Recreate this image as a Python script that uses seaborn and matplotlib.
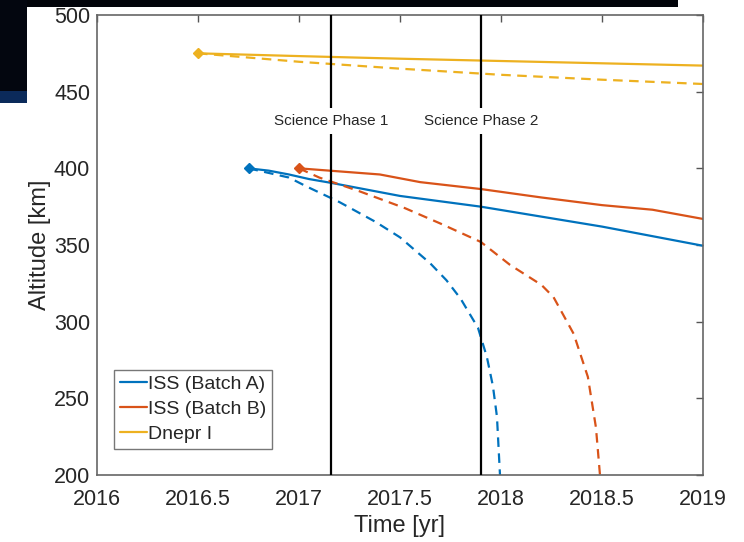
import numpy as np
import pandas as pd
import matplotlib
matplotlib.use("Agg")
import matplotlib.pyplot as plt
from matplotlib.patches import Rectangle
import seaborn as sns

# ---- data ----
issA_solid_t = [2016.75, 2016.85, 2016.95, 2017.05, 2017.16, 2017.5, 2017.9, 2018.5, 2019.0]
issA_solid_h = [400, 398.5, 396, 393, 390.5, 382, 375, 362, 349.5]
issA_decay_t = [2016.75, 2016.95, 2017.04, 2017.2, 2017.38, 2017.5, 2017.65, 2017.73, 2017.8,
                2017.886, 2017.93, 2017.96, 2017.98, 2017.995]
issA_decay_h = [400, 394, 388, 378, 365, 355, 338, 327, 315, 296, 277, 258, 238, 200]

issB_solid_t = [2017.0, 2017.2, 2017.4, 2017.6, 2017.9, 2018.2, 2018.5, 2018.75, 2019.0]
issB_solid_h = [400, 398, 396, 391, 386.5, 381, 376, 373, 367]
issB_decay_t = [2017.0, 2017.1, 2017.3, 2017.525, 2017.7, 2017.9, 2018.045, 2018.2, 2018.26,
                2018.36, 2018.43, 2018.47, 2018.49]
issB_decay_h = [400, 394, 385, 374, 364, 352, 337, 324, 316, 292, 264, 231, 200]

dnepr_solid_t = [2016.5, 2017.0, 2017.5, 2018.0, 2018.5, 2019.0]
dnepr_solid_h = [475, 473.2, 471.5, 470.0, 468.5, 467]
dnepr_decay_t = [2016.5, 2017.0, 2017.5, 2018.0, 2018.5, 2019.0]
dnepr_decay_h = [475, 469.5, 465, 461, 457.8, 455]

series_names = ["ISS (Batch A)", "ISS (Batch B)", "Dnepr I"]
phase_times = [2017.16, 2017.9]
phase_labels = ["Science Phase 1", "Science Phase 2"]
x_ticks = [2016, 2016.5, 2017, 2017.5, 2018, 2018.5, 2019]
x_tick_labels = ["2016", "2016.5", "2017", "2017.5", "2018", "2018.5", "2019"]
y_ticks = [200, 250, 300, 350, 400, 450, 500]

colors = ["#0072BD", "#D95319", "#EDB120"]

sns.set_style("white")
plt.rcParams["font.family"] = ["Liberation Sans", "DejaVu Sans"]

fig = plt.figure(figsize=(7.44, 5.42), dpi=100)
fig.patch.set_facecolor("white")
# background slide remnants (dark strip at top and dark block at top-left)
fig.patches.append(Rectangle((0, 1 - 7 / 542), 678 / 744, 7 / 542, transform=fig.transFigure,
                             facecolor="#02040a", edgecolor="none", zorder=0))
fig.patches.append(Rectangle((0, 1 - 103 / 542), 27 / 744, 103 / 542, transform=fig.transFigure,
                             facecolor="#03060f", edgecolor="none", zorder=0))
fig.patches.append(Rectangle((0, 1 - 103 / 542), 27 / 744, 12 / 542, transform=fig.transFigure,
                             facecolor="#0b2a5a", edgecolor="none", zorder=0))

ax = fig.add_axes([97 / 744, 1 - 475 / 542, 606 / 744, 460 / 542])

solid = [(issA_solid_t, issA_solid_h), (issB_solid_t, issB_solid_h), (dnepr_solid_t, dnepr_solid_h)]
decay = [(issA_decay_t, issA_decay_h), (issB_decay_t, issB_decay_h), (dnepr_decay_t, dnepr_decay_h)]

lw = 1.6
for (ts, hs), (td, hd), name, c in zip(solid, decay, series_names, colors):
    dfd = pd.DataFrame({"t": td, "h": hd})
    sns.lineplot(data=dfd, x="t", y="h", ax=ax, color=c, lw=lw, sort=False,
                 dashes=False, linestyle=(0, (4.3, 2.9)), legend=False)
    dfs = pd.DataFrame({"t": ts, "h": hs})
    sns.lineplot(data=dfs, x="t", y="h", ax=ax, color=c, lw=lw, sort=False, label=name)
    ax.plot(ts[0], hs[0], marker="D", ms=5.5, color=c, zorder=5)

for pt, pl in zip(phase_times, phase_labels):
    ax.axvline(pt, color="black", lw=1.6, zorder=3)
    ax.text(pt, 431, pl, ha="center", va="center", fontsize=11, color="#262626", zorder=4,
            bbox=dict(boxstyle="square,pad=0.4", facecolor="white", edgecolor="none"))

ax.set_xlim(2016, 2019)
ax.set_ylim(200, 500)
ax.set_xticks(x_ticks)
ax.set_xticklabels(x_tick_labels)
ax.set_yticks(y_ticks)
ax.tick_params(direction="in", length=5, width=1, colors="#555555", labelcolor="#262626",
               labelsize=15.5, top=True, right=True, pad=5)
ax.tick_params(axis="x", pad=10)
for s in ax.spines.values():
    s.set_color("#666666")
    s.set_linewidth(1.2)
ax.set_xlabel("Time [yr]", fontsize=17, color="#262626", labelpad=4)
ax.set_ylabel("Altitude [km]", fontsize=17, color="#262626", labelpad=2)

leg = ax.legend(loc="lower left", bbox_to_anchor=(0.028, 0.057), borderaxespad=0,
                fontsize=14, frameon=True, fancybox=False, handlelength=1.4,
                handletextpad=0.05, borderpad=0.3, labelspacing=0.38)
leg.get_frame().set_edgecolor("#555555")
leg.get_frame().set_linewidth(1.0)
for t in leg.get_texts():
    t.set_color("#262626")

fig.savefig("out.png", dpi=100)
